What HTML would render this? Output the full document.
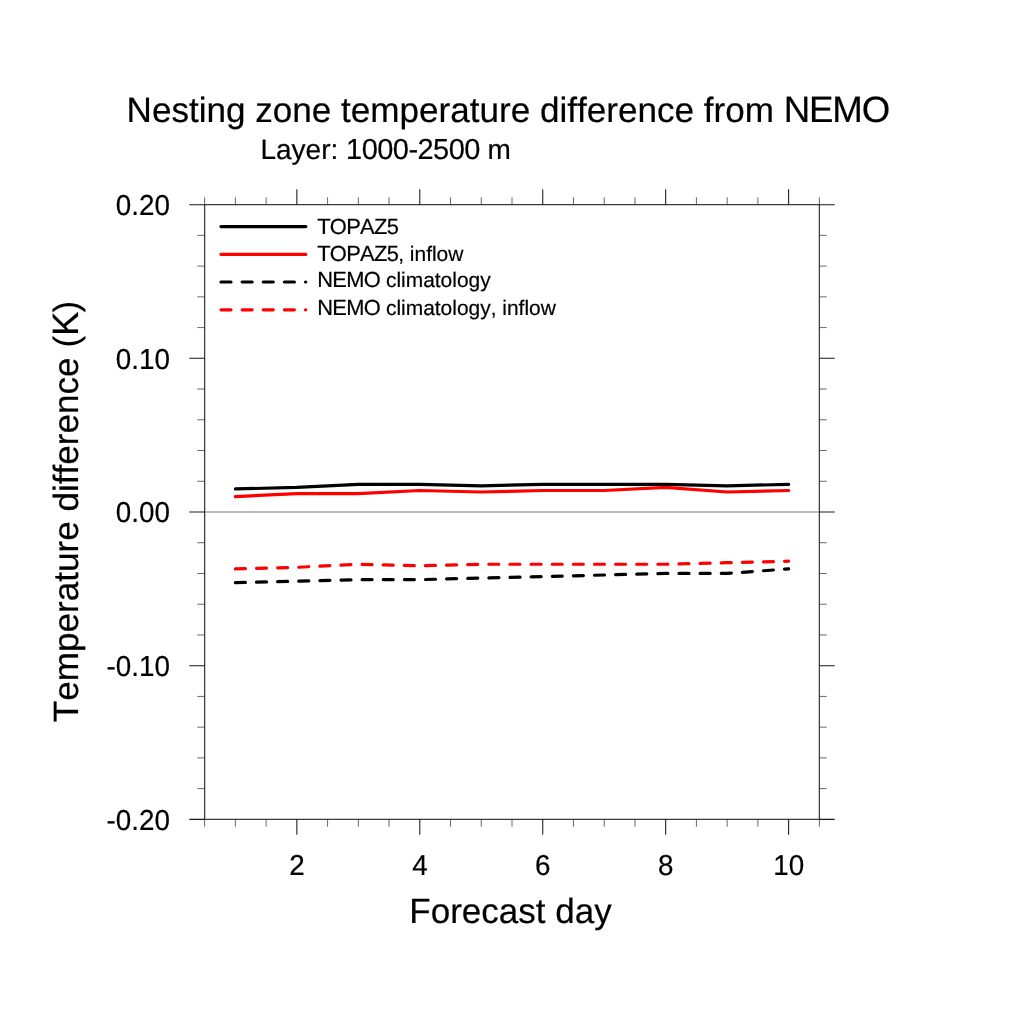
<!DOCTYPE html>
<html lang="en">
<head>
<meta charset="utf-8">
<title>Nesting zone temperature difference from NEMO</title>
<style>
html,body{margin:0;padding:0;background:#fff;}
body{width:1024px;height:1024px;overflow:hidden;}
svg{display:block;}
text{font-family:"Liberation Sans",Arial,Helvetica,sans-serif;fill:#000;font-kerning:none;text-rendering:geometricPrecision;stroke:#000;stroke-width:.2px;stroke-linejoin:round;}
.tl{font-size:27.8px;}
.big{font-size:35px;}
.ttl{font-size:35.1px;}
.sub{font-size:28.02px;}
.lg{font-size:20.95px;}
.c{font-size:1.045em;letter-spacing:-.031em;}
.d{font-size:1.035em;letter-spacing:-.0188em;}
.ax{stroke:#000;stroke-width:1.2;fill:none;opacity:.8}
.mn{stroke:#000;stroke-width:.7;fill:none;opacity:.85}
.mj{stroke:#000;stroke-width:1.05;fill:none;opacity:.9}
.ln{fill:none;stroke-width:3.2;stroke-linecap:round;stroke-linejoin:round;}
.ds{stroke-dasharray:10 11.13;}
</style>
</head>
<body>
<svg width="1024" height="1024" viewBox="0 0 1024 1024">
<rect x="0" y="0" width="1024" height="1024" fill="#ffffff"/>
<line x1="204.65" y1="512.00" x2="819.35" y2="512.00" stroke="#a6a6a6" stroke-width="1.6"/>
<polyline class="ln" stroke="#000" points="235.39,488.95 296.86,487.41 358.33,484.34 419.80,484.34 481.26,485.88 542.74,484.34 604.21,484.34 665.67,484.34 727.15,485.88 788.62,484.34"/>
<polyline class="ln" stroke="#ff0000" points="235.39,496.63 296.86,493.56 358.33,493.56 419.80,490.49 481.26,492.02 542.74,490.49 604.21,490.49 665.67,487.41 727.15,492.02 788.62,490.49"/>
<polyline class="ln ds" stroke="#000" points="235.39,582.69 296.86,581.15 358.33,579.62 419.80,579.62 481.26,578.08 542.74,576.54 604.21,575.01 665.67,573.47 727.15,573.47 788.62,568.86"/>
<polyline class="ln ds" stroke="#ff0000" points="235.39,568.86 296.86,567.32 358.33,564.25 419.80,565.79 481.26,564.25 542.74,564.25 604.21,564.25 665.67,564.25 727.15,562.71 788.62,561.18"/>
<rect class="ax" x="204.65" y="204.65" width="614.70" height="614.70"/>
<path class="mn" d="M204.65 204.65V197.25M204.65 819.35V826.75M235.39 204.65V197.25M235.39 819.35V826.75M266.12 204.65V197.25M266.12 819.35V826.75M327.59 204.65V197.25M327.59 819.35V826.75M358.33 204.65V197.25M358.33 819.35V826.75M389.06 204.65V197.25M389.06 819.35V826.75M450.53 204.65V197.25M450.53 819.35V826.75M481.26 204.65V197.25M481.26 819.35V826.75M512.00 204.65V197.25M512.00 819.35V826.75M573.47 204.65V197.25M573.47 819.35V826.75M604.21 204.65V197.25M604.21 819.35V826.75M634.94 204.65V197.25M634.94 819.35V826.75M696.41 204.65V197.25M696.41 819.35V826.75M727.15 204.65V197.25M727.15 819.35V826.75M757.88 204.65V197.25M757.88 819.35V826.75M819.35 204.65V197.25M819.35 819.35V826.75M204.65 788.62H197.25M819.35 788.62H826.75M204.65 757.88H197.25M819.35 757.88H826.75M204.65 727.14H197.25M819.35 727.14H826.75M204.65 696.41H197.25M819.35 696.41H826.75M204.65 634.94H197.25M819.35 634.94H826.75M204.65 604.21H197.25M819.35 604.21H826.75M204.65 573.47H197.25M819.35 573.47H826.75M204.65 542.74H197.25M819.35 542.74H826.75M204.65 481.26H197.25M819.35 481.26H826.75M204.65 450.53H197.25M819.35 450.53H826.75M204.65 419.80H197.25M819.35 419.80H826.75M204.65 389.06H197.25M819.35 389.06H826.75M204.65 327.59H197.25M819.35 327.59H826.75M204.65 296.86H197.25M819.35 296.86H826.75M204.65 266.12H197.25M819.35 266.12H826.75M204.65 235.39H197.25M819.35 235.39H826.75"/>
<path class="mj" d="M296.86 204.65V189.25M296.86 819.35V834.75M419.80 204.65V189.25M419.80 819.35V834.75M542.74 204.65V189.25M542.74 819.35V834.75M665.67 204.65V189.25M665.67 819.35V834.75M788.62 204.65V189.25M788.62 819.35V834.75M204.65 819.35H189.25M819.35 819.35H834.75M204.65 665.68H189.25M819.35 665.68H834.75M204.65 512.00H189.25M819.35 512.00H834.75M204.65 358.33H189.25M819.35 358.33H834.75M204.65 204.65H189.25M819.35 204.65H834.75"/>
<text class="tl" transform="translate(296.96 874.8) scale(1 1.035)" text-anchor="middle">2</text>
<text class="tl" transform="translate(419.90 874.8) scale(1 1.035)" text-anchor="middle">4</text>
<text class="tl" transform="translate(542.84 874.8) scale(1 1.035)" text-anchor="middle">6</text>
<text class="tl" transform="translate(665.77 874.8) scale(1 1.035)" text-anchor="middle">8</text>
<text class="tl" transform="translate(788.72 874.8) scale(1 1.035)" text-anchor="middle">10</text>
<text class="tl" transform="translate(169.9 214.95) scale(1 1.040)" text-anchor="end">0.20</text>
<text class="tl" transform="translate(169.9 368.63) scale(1 1.040)" text-anchor="end">0.10</text>
<text class="tl" transform="translate(169.9 522.30) scale(1 1.040)" text-anchor="end">0.00</text>
<text class="tl" transform="translate(169.9 675.98) scale(1 1.040)" text-anchor="end">-0.10</text>
<text class="tl" transform="translate(169.9 829.65) scale(1 1.040)" text-anchor="end">-0.20</text>
<text class="ttl" x="507.8" y="122.2" text-anchor="middle">Nesting zone temperature difference from <tspan class="c">NEMO</tspan></text>
<text class="sub" x="260.4" y="159.4">Layer: <tspan class="d">1000-2500</tspan> m</text>
<text class="big" x="510.5" y="922.6" text-anchor="middle">Forecast day</text>
<text class="big" style="font-size:35.12px" transform="translate(78.1 511.6) rotate(-90)" text-anchor="middle">Temperature difference (<tspan class="c">K</tspan>)</text>
<path class="ln" stroke="#000" d="M221 226.60H305.8"/>
<text class="lg" x="317.2" y="234.20"><tspan class="c">TOPAZ5</tspan></text>
<path class="ln" stroke="#ff0000" d="M221 254.40H305.8"/>
<text class="lg" x="317.2" y="260.70"><tspan class="c">TOPAZ5</tspan>, inflow</text>
<path class="ln ds" stroke="#000" d="M221 282.00H305.8"/>
<text class="lg" x="317.2" y="287.30"><tspan class="c">NEMO</tspan> climatology</text>
<path class="ln ds" stroke="#ff0000" d="M221 309.80H305.8"/>
<text class="lg" x="317.2" y="315.00"><tspan class="c">NEMO</tspan> climatology, inflow</text>
</svg>
</body>
</html>
